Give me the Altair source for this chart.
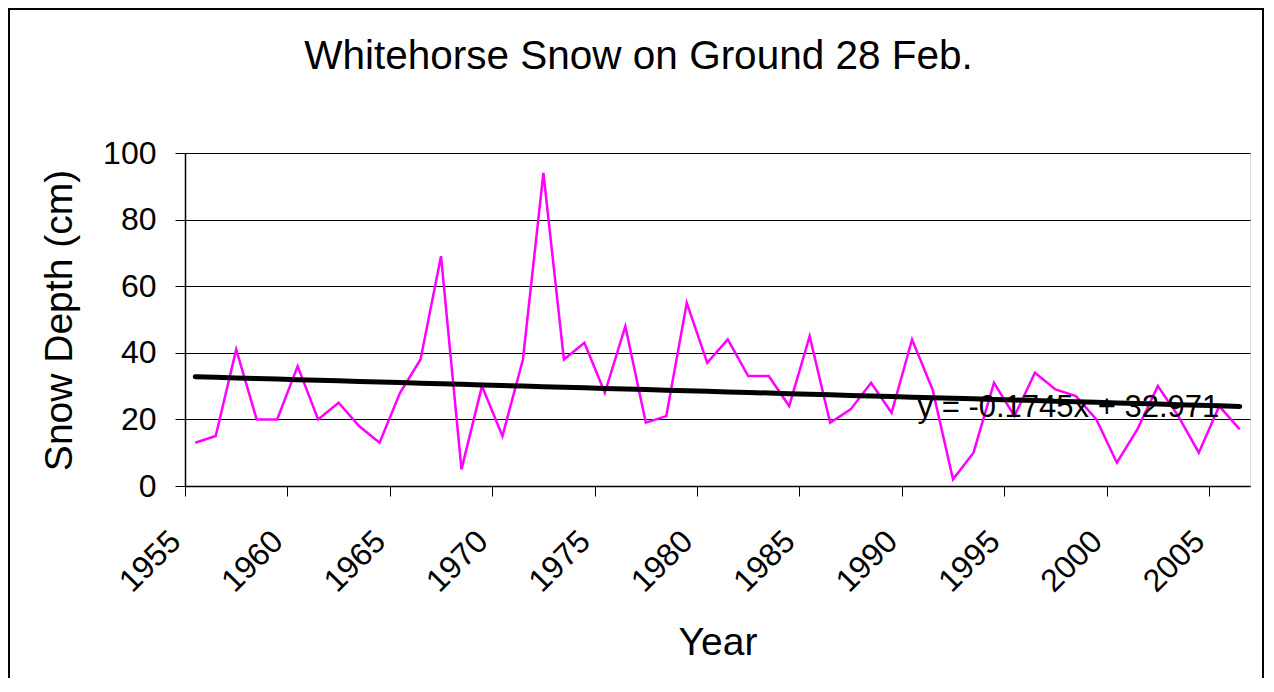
import altair as alt
import pandas as pd

FONT = "Liberation Sans, Arial, sans-serif"

title_text = "Whitehorse Snow on Ground 28 Feb."
years = list(range(1955, 2007))
snow_depth = [13, 15, 41, 20, 20, 36, 20, 25, 18, 13,
              28, 38, 69, 5, 30, 15, 38, 94, 38, 43,
              28, 48, 19, 21, 55, 37, 44, 33, 33, 24,
              45, 19, 23, 31, 22, 44, 29, 2, 10, 31,
              21, 34, 29, 27, 20, 7, 17, 30, 21, 10,
              24, 17]
tick_years = [1955, 1960, 1965, 1970, 1975, 1980, 1985, 1990, 1995, 2000, 2005]
y_ticks = [0, 20, 40, 60, 80, 100]

trend_slope = -0.1745
trend_intercept = 32.971
eq_text = "y = -0.1745x + 32.971"
eq_year = 1990.27
eq_value = 20.6

df = pd.DataFrame({"year": years, "depth": snow_depth})

x_scale = alt.Scale(domain=[years[0] - 0.5, years[-1] + 0.5], nice=False, zero=False)
y_scale = alt.Scale(domain=[0, 100], nice=False)

x_axis = alt.Axis(
    values=[y - 0.5 for y in tick_years],
    labelExpr="format(datum.value + 0.5, 'd')",
    labelAngle=315, labelAlign="right", labelBaseline="alphabetic",
    labelPadding=47, labelOffset=-3,
    labelFontSize=32, labelFont=FONT, labelColor="black",
    labelOverlap=False, labelFlush=False,
    tickSize=10, tickColor="black", tickWidth=1,
    domainColor="black", domainWidth=1.5,
    grid=False,
    title="Year", titleFontSize=39, titleFont=FONT, titleFontWeight="normal",
    titleColor="black", titleY=168, titleBaseline="alphabetic",
)
y_axis = alt.Axis(
    values=y_ticks,
    labelFontSize=32, labelFont=FONT, labelColor="black", labelPadding=19,
    tickSize=10, tickColor="black", tickWidth=1,
    domainColor="black", domainWidth=1.5,
    grid=True, gridColor="black", gridWidth=1,
    title="Snow Depth (cm)", titleFontSize=39, titleFont=FONT,
    titleFontWeight="normal", titleColor="black",
    titleAngle=270, titleX=-114, titleY=167,
    titleBaseline="alphabetic", titleAlign="center",
)

base = alt.Chart(df)

line = base.mark_line(color="#FF00FF", strokeWidth=2.5).encode(
    x=alt.X("year:Q", scale=x_scale, axis=x_axis),
    y=alt.Y("depth:Q", scale=y_scale, axis=y_axis),
)

trend = base.transform_calculate(
    trend=f"{trend_intercept} + ({trend_slope}) * (datum.year - {years[0]} + 1)"
).mark_line(color="black", strokeWidth=5, strokeCap="round").encode(
    x=alt.X("year:Q", scale=x_scale),
    y=alt.Y("trend:Q", scale=y_scale),
)

eq = alt.Chart(pd.DataFrame({"x": [eq_year], "y": [eq_value], "t": [eq_text]})).mark_text(
    align="left", baseline="alphabetic", fontSize=31, font=FONT, color="black"
).encode(
    x=alt.X("x:Q", scale=x_scale),
    y=alt.Y("y:Q", scale=y_scale),
    text="t:N",
)

title = alt.Chart(pd.DataFrame({"t": [title_text]})).mark_text(
    align="center", baseline="alphabetic", fontSize=40.5, font=FONT, color="black"
).encode(
    x=alt.value(453.5), y=alt.value(-84.5), text="t:N"
)

# outer chart border (bottom edge lies beyond the visible area, as in the reference)
frame = alt.Chart(pd.DataFrame({"a": [0]})).mark_rect(
    fill="transparent", stroke="black", strokeWidth=2
).encode(
    x=alt.value(-176), x2=alt.value(1078), y=alt.value(-144), y2=alt.value(560)
)

chart = alt.layer(line, eq, trend, title, frame).properties(
    width=1065,
    height=333,
    autosize=alt.AutoSizeParams(type="none"),
    padding={"left": 177, "top": 145, "right": 14, "bottom": 192},
).configure_view(
    fill="#C0C0C0", stroke="#808080", strokeWidth=2
).configure(background="white")

chart.save("out.html", embed_options={"renderer": "svg", "actions": False})
